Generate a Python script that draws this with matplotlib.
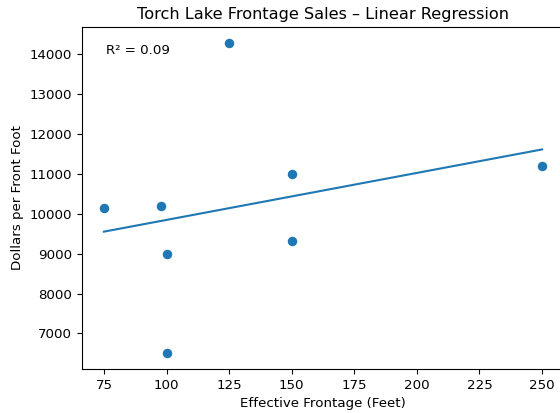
import numpy as np
import matplotlib
matplotlib.use("Agg")
import matplotlib.pyplot as plt

plt.rcParams["font.size"] = 9.6
plt.rcParams["axes.titlesize"] = 11.6

# Data
frontage = np.array([75, 98, 100, 100, 125, 150, 150, 250])
price_per_ft = np.array([10150, 10200, 9000, 6500, 14280, 11000, 9320, 11200])

# Linear fit
slope, intercept = np.polyfit(frontage, price_per_ft, 1)
pred = slope * frontage + intercept
ss_res = np.sum((price_per_ft - pred) ** 2)
ss_tot = np.sum((price_per_ft - price_per_ft.mean()) ** 2)
r2 = 1 - ss_res / ss_tot

xs = np.array([frontage.min(), frontage.max()])

fig = plt.figure(figsize=(5.6, 4.13), dpi=100)
# axes run slightly past the right edge like the cropped original
ax = fig.add_axes([82 / 560, (413 - 369) / 413, 482 / 560, (369 - 27) / 413])
ax.scatter(frontage, price_per_ft, s=34)
ax.plot(xs, slope * xs + intercept)
ax.text(0.05, 0.95, f"R\u00b2 = {r2:.2f}", transform=ax.transAxes, va="top")
ax.set_title("Torch Lake Frontage Sales \u2013 Linear Regression")
ax.set_xlabel("Effective Frontage (Feet)")
ax.set_ylabel("Dollars per Front Foot")

fig.savefig("out.png", dpi=100)
